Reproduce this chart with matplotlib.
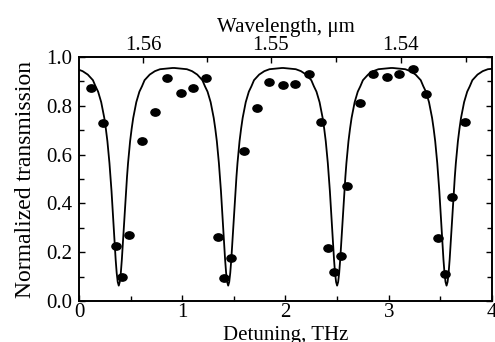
import numpy as np
import matplotlib.pyplot as plt
from matplotlib.path import Path
from matplotlib.transforms import Affine2D

plt.rcParams['font.family'] = ['Liberation Serif', 'DejaVu Serif']

# measured transmission (dots)
det_meas = [0.113, 0.232, 0.362, 0.420, 0.484, 0.607, 0.736, 0.856, 0.985,
            1.107, 1.227, 1.349, 1.407, 1.472, 1.598, 1.721, 1.843, 1.973,
            2.095, 2.225, 2.347, 2.409, 2.466, 2.534, 2.599, 2.722, 2.851,
            2.980, 3.097, 3.235, 3.358, 3.480, 3.545, 3.616, 3.738]
trans_meas = [0.872, 0.728, 0.225, 0.100, 0.270, 0.656, 0.773, 0.913, 0.851,
              0.872, 0.913, 0.261, 0.093, 0.178, 0.616, 0.790, 0.896, 0.885,
              0.890, 0.930, 0.735, 0.219, 0.118, 0.186, 0.473, 0.810, 0.929,
              0.919, 0.929, 0.950, 0.850, 0.258, 0.111, 0.425, 0.735]

# fitted curve: one resonance profile, repeated at each dip
dip_centers = [0.385, 1.445, 2.500, 3.560]
dip_offset = [0.0, 0.01, 0.02, 0.03, 0.04, 0.05, 0.06, 0.07, 0.08, 0.09, 0.10,
              0.11, 0.125, 0.14, 0.155, 0.17, 0.185, 0.20, 0.225, 0.25, 0.30,
              0.35, 0.40, 0.52]
dip_trans = [0.063, 0.078, 0.115, 0.170, 0.239, 0.310, 0.381, 0.450, 0.509,
             0.565, 0.611, 0.655, 0.706, 0.750, 0.783, 0.815, 0.836, 0.858,
             0.880, 0.905, 0.928, 0.942, 0.950, 0.955]

# top axis (wavelength, um)
wl_major = [1.56, 1.55, 1.54]
wl_minor = [1.555, 1.545, 1.535]
f_zero = 191.555   # optical frequency (THz) at zero detuning


def wl_to_det(wl):
    return 299.792458 / np.array(wl) - f_zero


fig = plt.figure(figsize=(4.95, 3.42), dpi=100)
ax = fig.add_axes([0.1596, 0.1199, 0.8343, 0.7134])

off = np.array(dip_offset)
tr = np.array(dip_trans)
xs, ys = [], []
for c0 in dip_centers:
    xs.append(np.concatenate([c0 - off[::-1], c0 + off[1:]]))
    ys.append(np.concatenate([tr[::-1], tr[1:]]))
ax.plot(np.concatenate(xs), np.concatenate(ys), color='black', lw=1.3)

oval = Path.unit_circle().transformed(Affine2D().scale(1.0, 0.8))
ax.plot(det_meas, trans_meas, ls='none', marker=oval, ms=6.6, color='black')

ax.set_xlim(0, 4)
ax.set_ylim(0, 1.0)
ax.set_xticks([0, 1, 2, 3, 4])
ax.set_xticks([0.5, 1.5, 2.5, 3.5], minor=True)
ax.set_yticks([0.0, 0.2, 0.4, 0.6, 0.8, 1.0])
ax.set_yticks([0.1, 0.3, 0.5, 0.7, 0.9], minor=True)
ax.set_yticklabels(['0.0', '0.2', '0.4', '0.6', '0.8', '1.0'])
ax.tick_params(which='both', direction='in', labelsize=15, width=1.0,
               right=True, top=False)
ax.tick_params(which='major', length=4, pad=1.5)
ax.tick_params(which='minor', length=3.5)
ax.tick_params(axis='y', which='major', pad=5)
ax.set_xlabel('Detuning, THz', fontsize=15, labelpad=3)
ax.set_ylabel('Normalized transmission', fontsize=17, labelpad=7)

ax2 = ax.twiny()
ax2.set_xlim(0, 4)
ax2.set_xticks(wl_to_det(wl_major))
ax2.set_xticklabels(['%.2f' % w for w in wl_major])
ax2.set_xticks(wl_to_det(wl_minor), minor=True)
ax2.tick_params(which='both', direction='in', labelsize=15, width=1.0, pad=1.5)
ax2.tick_params(which='major', length=4)
ax2.tick_params(which='minor', length=3.5)
ax2.set_xlabel('Wavelength, μm', fontsize=15, labelpad=2.5)

for a in (ax, ax2):
    for s in a.spines.values():
        s.set_linewidth(1.2)

fig.savefig('out.png', dpi=100)
